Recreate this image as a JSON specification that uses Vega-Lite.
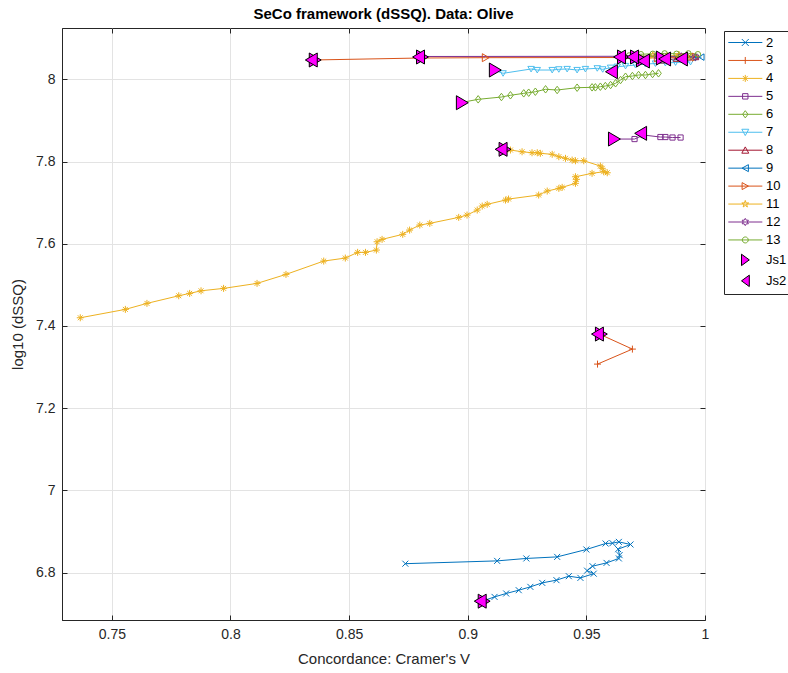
{
"$schema": "https://vega.github.io/schema/vega-lite/v6.json",
"width": 643, "height": 592,
"autosize": {"type": "none"},
"padding": {"left": 62, "top": 28, "right": 83, "bottom": 53},
"background": "white",
"title": {"text": "SeCo framework (dSSQ). Data: Olive", "fontSize": 15, "fontWeight": "bold", "font": "Liberation Sans", "color": "#000000", "anchor": "middle", "offset": 6},
"data": {"values": [
{"s":"2","i":0,"x":0.9061,"y":6.7307},{"s":"2","i":1,"x":0.9113,"y":6.7411},{"s":"2","i":2,"x":0.9162,"y":6.7494},{"s":"2","i":3,"x":0.9215,"y":6.7574},{"s":"2","i":4,"x":0.9264,"y":6.7655},{"s":"2","i":5,"x":0.9314,"y":6.7752},{"s":"2","i":6,"x":0.9374,"y":6.7818},{"s":"2","i":7,"x":0.9426,"y":6.7915},{"s":"2","i":8,"x":0.9475,"y":6.7873},{"s":"2","i":9,"x":0.9531,"y":6.7976},{"s":"2","i":10,"x":0.9503,"y":6.8049},{"s":"2","i":11,"x":0.9526,"y":6.8158},{"s":"2","i":12,"x":0.9585,"y":6.8238},{"s":"2","i":13,"x":0.9637,"y":6.8346},{"s":"2","i":14,"x":0.9640,"y":6.8426},{"s":"2","i":15,"x":0.9634,"y":6.8572},{"s":"2","i":16,"x":0.9686,"y":6.8686},{"s":"2","i":17,"x":0.9637,"y":6.8749},{"s":"2","i":18,"x":0.9610,"y":6.8718},{"s":"2","i":19,"x":0.9581,"y":6.8710},{"s":"2","i":20,"x":0.9500,"y":6.8564},{"s":"2","i":21,"x":0.9377,"y":6.8384},{"s":"2","i":22,"x":0.9247,"y":6.8346},{"s":"2","i":23,"x":0.9124,"y":6.8287},{"s":"2","i":24,"x":0.8737,"y":6.8219},
{"s":"3","i":0,"x":0.9555,"y":7.3803},{"s":"3","i":1,"x":0.9694,"y":7.3438},{"s":"3","i":2,"x":0.9547,"y":7.3073},
{"s":"4","i":0,"x":0.7367,"y":7.4200},{"s":"4","i":1,"x":0.7557,"y":7.4404},{"s":"4","i":2,"x":0.7648,"y":7.4550},{"s":"4","i":3,"x":0.7782,"y":7.4735},{"s":"4","i":4,"x":0.7828,"y":7.4793},{"s":"4","i":5,"x":0.7876,"y":7.4856},{"s":"4","i":6,"x":0.7971,"y":7.4915},{"s":"4","i":7,"x":0.8112,"y":7.5036},{"s":"4","i":8,"x":0.8234,"y":7.5255},{"s":"4","i":9,"x":0.8393,"y":7.5579},{"s":"4","i":10,"x":0.8484,"y":7.5652},{"s":"4","i":11,"x":0.8536,"y":7.5791},{"s":"4","i":12,"x":0.8569,"y":7.5791},{"s":"4","i":13,"x":0.8615,"y":7.5847},{"s":"4","i":14,"x":0.8618,"y":7.6049},{"s":"4","i":15,"x":0.8639,"y":7.6107},{"s":"4","i":16,"x":0.8726,"y":7.6229},{"s":"4","i":17,"x":0.8755,"y":7.6333},{"s":"4","i":18,"x":0.8798,"y":7.6455},{"s":"4","i":19,"x":0.8840,"y":7.6496},{"s":"4","i":20,"x":0.8962,"y":7.6642},{"s":"4","i":21,"x":0.8997,"y":7.6698},{"s":"4","i":22,"x":0.9040,"y":7.6820},{"s":"4","i":23,"x":0.9061,"y":7.6917},{"s":"4","i":24,"x":0.9082,"y":7.6959},{"s":"4","i":25,"x":0.9159,"y":7.7063},{"s":"4","i":26,"x":0.9172,"y":7.7088},{"s":"4","i":27,"x":0.9299,"y":7.7185},{"s":"4","i":28,"x":0.9335,"y":7.7282},{"s":"4","i":29,"x":0.9384,"y":7.7348},{"s":"4","i":30,"x":0.9398,"y":7.7372},{"s":"4","i":31,"x":0.9454,"y":7.7470},{"s":"4","i":32,"x":0.9458,"y":7.7567},{"s":"4","i":33,"x":0.9454,"y":7.7630},{"s":"4","i":34,"x":0.9524,"y":7.7713},{"s":"4","i":35,"x":0.9573,"y":7.7752},{"s":"4","i":36,"x":0.9588,"y":7.7727},{"s":"4","i":37,"x":0.9567,"y":7.7835},{"s":"4","i":38,"x":0.9559,"y":7.7891},{"s":"4","i":39,"x":0.9489,"y":7.8019},{"s":"4","i":40,"x":0.9454,"y":7.8019},{"s":"4","i":41,"x":0.9440,"y":7.8036},{"s":"4","i":42,"x":0.9412,"y":7.8078},{"s":"4","i":43,"x":0.9384,"y":7.8117},{"s":"4","i":44,"x":0.9356,"y":7.8175},{"s":"4","i":45,"x":0.9306,"y":7.8200},{"s":"4","i":46,"x":0.9293,"y":7.8214},{"s":"4","i":47,"x":0.9271,"y":7.8214},{"s":"4","i":48,"x":0.9229,"y":7.8238},{"s":"4","i":49,"x":0.9180,"y":7.8280},{"s":"4","i":50,"x":0.9149,"y":7.8297},
{"s":"5","i":0,"x":0.9610,"y":7.8547},{"s":"5","i":1,"x":0.9703,"y":7.8547},{"s":"5","i":2,"x":0.9741,"y":7.8645},{"s":"5","i":3,"x":0.9812,"y":7.8596},{"s":"5","i":4,"x":0.9833,"y":7.8596},{"s":"5","i":5,"x":0.9863,"y":7.8584},{"s":"5","i":6,"x":0.9897,"y":7.8584},
{"s":"6","i":0,"x":0.8969,"y":7.9431},{"s":"6","i":1,"x":0.9044,"y":7.9513},{"s":"6","i":2,"x":0.9142,"y":7.9569},{"s":"6","i":3,"x":0.9180,"y":7.9611},{"s":"6","i":4,"x":0.9236,"y":7.9659},{"s":"6","i":5,"x":0.9257,"y":7.9674},{"s":"6","i":6,"x":0.9285,"y":7.9698},{"s":"6","i":7,"x":0.9328,"y":7.9757},{"s":"6","i":8,"x":0.9377,"y":7.9740},{"s":"6","i":9,"x":0.9461,"y":7.9796},{"s":"6","i":10,"x":0.9524,"y":7.9805},{"s":"6","i":11,"x":0.9538,"y":7.9805},{"s":"6","i":12,"x":0.9559,"y":7.9820},{"s":"6","i":13,"x":0.9580,"y":7.9837},{"s":"6","i":14,"x":0.9602,"y":7.9861},{"s":"6","i":15,"x":0.9623,"y":7.9903},{"s":"6","i":16,"x":0.9644,"y":7.9983},{"s":"6","i":17,"x":0.9665,"y":8.0063},{"s":"6","i":18,"x":0.9694,"y":8.0080},{"s":"6","i":19,"x":0.9720,"y":8.0105},{"s":"6","i":20,"x":0.9749,"y":8.0105},{"s":"6","i":21,"x":0.9779,"y":8.0129},{"s":"6","i":22,"x":0.9804,"y":8.0146},
{"s":"7","i":0,"x":0.9108,"y":8.0226},{"s":"7","i":1,"x":0.9149,"y":8.0146},{"s":"7","i":2,"x":0.9267,"y":8.0251},{"s":"7","i":3,"x":0.9293,"y":8.0226},{"s":"7","i":4,"x":0.9356,"y":8.0226},{"s":"7","i":5,"x":0.9384,"y":8.0243},{"s":"7","i":6,"x":0.9419,"y":8.0251},{"s":"7","i":7,"x":0.9461,"y":8.0226},{"s":"7","i":8,"x":0.9496,"y":8.0251},{"s":"7","i":9,"x":0.9546,"y":8.0268},{"s":"7","i":10,"x":0.9569,"y":8.0243},{"s":"7","i":11,"x":0.9602,"y":8.0282},{"s":"7","i":12,"x":0.9630,"y":8.0307},{"s":"7","i":13,"x":0.9665,"y":8.0324},{"s":"7","i":14,"x":0.9707,"y":8.0348},{"s":"7","i":15,"x":0.9749,"y":8.0372},{"s":"7","i":16,"x":0.9791,"y":8.0384},{"s":"7","i":17,"x":0.9833,"y":8.0397},{"s":"7","i":18,"x":0.9876,"y":8.0409},{"s":"7","i":19,"x":0.9939,"y":8.0421},
{"s":"8","i":0,"x":0.9820,"y":8.0460},{"s":"8","i":1,"x":0.9880,"y":8.0500},{"s":"8","i":2,"x":0.9930,"y":8.0530},{"s":"8","i":3,"x":0.9960,"y":8.0540},
{"s":"9","i":0,"x":0.9900,"y":8.0500},{"s":"9","i":1,"x":0.9950,"y":8.0530},{"s":"9","i":2,"x":0.9985,"y":8.0540},
{"s":"10","i":0,"x":0.8349,"y":8.0470},{"s":"10","i":1,"x":0.8801,"y":8.0518},{"s":"10","i":2,"x":0.9075,"y":8.0526},{"s":"10","i":3,"x":0.9700,"y":8.0530},{"s":"10","i":4,"x":0.9800,"y":8.0520},{"s":"10","i":5,"x":0.9900,"y":8.0530},{"s":"10","i":6,"x":0.9960,"y":8.0540},
{"s":"11","i":0,"x":0.9650,"y":8.0500},{"s":"11","i":1,"x":0.9720,"y":8.0550},{"s":"11","i":2,"x":0.9780,"y":8.0580},{"s":"11","i":3,"x":0.9840,"y":8.0560},{"s":"11","i":4,"x":0.9890,"y":8.0590},{"s":"11","i":5,"x":0.9940,"y":8.0550},
{"s":"12","i":0,"x":0.8801,"y":8.0555},{"s":"12","i":1,"x":0.9650,"y":8.0560},{"s":"12","i":2,"x":0.9800,"y":8.0560},{"s":"12","i":3,"x":0.9900,"y":8.0555},{"s":"12","i":4,"x":0.9960,"y":8.0545},
{"s":"13","i":0,"x":0.9680,"y":8.0580},{"s":"13","i":1,"x":0.9730,"y":8.0610},{"s":"13","i":2,"x":0.9780,"y":8.0620},{"s":"13","i":3,"x":0.9830,"y":8.0630},{"s":"13","i":4,"x":0.9880,"y":8.0620},{"s":"13","i":5,"x":0.9930,"y":8.0630},{"s":"13","i":6,"x":0.9970,"y":8.0610},
{"s":"Js1","i":0,"x":0.8349,"y":8.0470},{"s":"Js1","i":1,"x":0.8801,"y":8.0543},{"s":"Js1","i":2,"x":0.9108,"y":8.0226},{"s":"Js1","i":3,"x":0.8969,"y":7.9431},{"s":"Js1","i":4,"x":0.9149,"y":7.8297},{"s":"Js1","i":5,"x":0.9610,"y":7.8547},{"s":"Js1","i":6,"x":0.9061,"y":6.7307},{"s":"Js1","i":7,"x":0.9555,"y":7.3803},{"s":"Js1","i":8,"x":0.9648,"y":8.0543},{"s":"Js1","i":9,"x":0.9703,"y":8.0543},{"s":"Js1","i":10,"x":0.9728,"y":8.0470},{"s":"Js1","i":11,"x":0.9812,"y":8.0518},
{"s":"Js2","i":0,"x":0.8349,"y":8.0470},{"s":"Js2","i":1,"x":0.8801,"y":8.0543},{"s":"Js2","i":2,"x":0.9149,"y":7.8297},{"s":"Js2","i":3,"x":0.9737,"y":7.8686},{"s":"Js2","i":4,"x":0.9061,"y":6.7307},{"s":"Js2","i":5,"x":0.9555,"y":7.3803},{"s":"Js2","i":6,"x":0.9614,"y":8.0185},{"s":"Js2","i":7,"x":0.9648,"y":8.0543},{"s":"Js2","i":8,"x":0.9703,"y":8.0543},{"s":"Js2","i":9,"x":0.9749,"y":8.0445},{"s":"Js2","i":10,"x":0.9838,"y":8.0494},{"s":"Js2","i":11,"x":0.9909,"y":8.0494}
]},
"layer": [
{
"encoding": {
"x": {"field": "x", "type": "quantitative", "scale": {"domain": [0.729, 1.0], "nice": false, "zero": false}, "axis": {"values": [0.75, 0.8, 0.85, 0.9, 0.95, 1], "format": "~g", "title": "Concordance: Cramer's V", "grid": true, "labelFlush": false, "labelOverlap": false, "titlePadding": 10}},
"y": {"field": "y", "type": "quantitative", "scale": {"domain": [6.6849, 8.1248], "nice": false, "zero": false}, "axis": {"values": [6.8, 7, 7.2, 7.4, 7.6, 7.8, 8], "format": "~g", "title": "log10 (dSSQ)", "grid": true, "labelFlush": false, "labelOverlap": false, "titlePadding": 10}},
"stroke": {"field": "s", "type": "nominal", "scale": {"domain": ["2","3","4","5","6","7","8","9","10","11","12","13","Js1","Js2"], "range": ["#0072BD","#D95319","#EDB120","#7E2F8E","#77AC30","#4DBEEE","#A2142F","#0072BD","#D95319","#EDB120","#7E2F8E","#77AC30","#000000","#000000"]}, "legend": {"title": null, "orient": "none", "legendX": 662, "legendY": 3, "direction": "vertical"}}
},
"layer": [
{"mark": {"type": "point", "filled": false, "opacity": 0},
 "encoding": {
  "shape": {"field": "s", "type": "nominal", "scale": {"domain": ["2","3","4","5","6","7","8","9","10","11","12","13","Js1","Js2"], "range": [
    "M-1.2,0L4.47,0M1.05,-0.58L2.21,0.58M1.05,0.58L2.21,-0.58",
    "M-1.2,0L4.47,0M1.63,-0.58L1.63,0.58",
    "M-1.2,0L4.47,0M1.63,-0.58L1.63,0.58M1.22,-0.41L2.04,0.41M1.22,0.41L2.04,-0.41",
    "M-1.2,0L4.47,0M1.18,-0.45L2.08,-0.45L2.08,0.45L1.18,0.45Z",
    "M-1.2,0L4.47,0M1.63,-0.6L2.08,0L1.63,0.6L1.18,0Z",
    "M-1.2,0L4.47,0M1.05,-0.5L2.21,-0.5L1.63,0.55Z",
    "M-1.2,0L4.47,0M1.05,0.5L2.21,0.5L1.63,-0.55Z",
    "M-1.2,0L4.47,0M2.15,-0.58L2.15,0.58L1.1,0Z",
    "M-1.2,0L4.47,0M1.1,-0.58L1.1,0.58L2.15,0Z",
    "M-1.2,0L4.47,0M1.63,-0.6L1.765,-0.185L2.201,-0.185L1.848,0.071L1.983,0.485L1.63,0.229L1.277,0.485L1.412,0.071L1.059,-0.185L1.495,-0.185Z",
    "M-1.2,0L4.47,0M1.63,-0.6L1.803,-0.3L2.15,-0.3L1.976,0L2.15,0.3L1.803,0.3L1.63,0.6L1.457,0.3L1.11,0.3L1.284,0L1.11,-0.3L1.457,-0.3Z",
    "M-1.2,0L4.47,0M1.13,0A0.5,0.5 0 1,1 2.13,0A0.5,0.5 0 1,1 1.13,0Z",
    "M1.0,-0.95L1.0,0.95L2.3,0Z",
    "M2.3,-0.95L2.3,0.95L1.0,0Z"]}, "legend": {"title": null, "orient": "none", "legendX": 662, "legendY": 3, "direction": "vertical"}},
  "fill": {"field": "s", "type": "nominal", "scale": {"domain": ["2","3","4","5","6","7","8","9","10","11","12","13","Js1","Js2"], "range": ["transparent","transparent","transparent","transparent","transparent","transparent","transparent","transparent","transparent","transparent","transparent","transparent","#FF00FF","#FF00FF"]}, "legend": {"title": null, "orient": "none", "legendX": 662, "legendY": 3, "direction": "vertical"}}
 }},
{"transform": [{"filter": "datum.s !== 'Js1' && datum.s !== 'Js2'"}], "mark": {"type": "line", "strokeWidth": 1}, "encoding": {"order": {"field": "i", "type": "quantitative"}}},
{"transform": [{"filter": "datum.s === '2'"}], "mark": {"type": "point", "shape": "M-1,-1L1,1M-1,1L1,-1", "filled": false, "size": 36, "strokeWidth": 1, "opacity": 1}},
{"transform": [{"filter": "datum.s === '3'"}], "mark": {"type": "point", "shape": "M-1,0L1,0M0,-1L0,1", "filled": false, "size": 49, "strokeWidth": 1, "opacity": 1}},
{"transform": [{"filter": "datum.s === '4'"}], "mark": {"type": "point", "shape": "M-1,0L1,0M0,-1L0,1M-0.7,-0.7L0.7,0.7M-0.7,0.7L0.7,-0.7", "filled": false, "size": 49, "strokeWidth": 1, "opacity": 1}},
{"transform": [{"filter": "datum.s === '5'"}], "mark": {"type": "point", "shape": "M-0.8,-0.8L0.8,-0.8L0.8,0.8L-0.8,0.8Z", "filled": false, "size": 42, "strokeWidth": 1, "opacity": 1}},
{"transform": [{"filter": "datum.s === '6'"}], "mark": {"type": "point", "shape": "M0,-1L0.75,0L0,1L-0.75,0Z", "filled": false, "size": 56, "strokeWidth": 1, "opacity": 1}},
{"transform": [{"filter": "datum.s === '7'"}], "mark": {"type": "point", "shape": "M-1,-0.8L1,-0.8L0,0.9Z", "filled": false, "size": 42, "strokeWidth": 1, "opacity": 1}},
{"transform": [{"filter": "datum.s === '8'"}], "mark": {"type": "point", "shape": "M-1,0.8L1,0.8L0,-0.9Z", "filled": false, "size": 42, "strokeWidth": 1, "opacity": 1}},
{"transform": [{"filter": "datum.s === '9'"}], "mark": {"type": "point", "shape": "M0.8,-1L0.8,1L-0.9,0Z", "filled": false, "size": 42, "strokeWidth": 1, "opacity": 1}},
{"transform": [{"filter": "datum.s === '10'"}], "mark": {"type": "point", "shape": "M-0.8,-1L-0.8,1L0.9,0Z", "filled": false, "size": 64, "strokeWidth": 1, "opacity": 1}},
{"transform": [{"filter": "datum.s === '11'"}], "mark": {"type": "point", "shape": "M0,-1L0.225,-0.309L0.951,-0.309L0.363,0.118L0.588,0.809L0,0.382L-0.588,0.809L-0.363,0.118L-0.951,-0.309L-0.225,-0.309Z", "filled": false, "size": 56, "strokeWidth": 1, "opacity": 1}},
{"transform": [{"filter": "datum.s === '12'"}], "mark": {"type": "point", "shape": "M0,-1L0.289,-0.5L0.866,-0.5L0.577,0L0.866,0.5L0.289,0.5L0,1L-0.289,0.5L-0.866,0.5L-0.577,0L-0.866,-0.5L-0.289,-0.5Z", "filled": false, "size": 56, "strokeWidth": 1, "opacity": 1}},
{"transform": [{"filter": "datum.s === '13'"}], "mark": {"type": "point", "shape": "circle", "filled": false, "size": 30, "strokeWidth": 1, "opacity": 1}},
{"transform": [{"filter": "datum.s === 'Js1'"}], "mark": {"type": "point", "shape": "M-0.57,-1L-0.57,1L1.13,0Z", "filled": true, "size": 196, "strokeWidth": 1, "opacity": 1}, "encoding": {"fill": {"value": "#FF00FF"}, "stroke": {"value": "#000000"}}},
{"transform": [{"filter": "datum.s === 'Js2'"}], "mark": {"type": "point", "shape": "M0.57,-1L0.57,1L-1.13,0Z", "filled": true, "size": 196, "strokeWidth": 1, "opacity": 1}, "encoding": {"fill": {"value": "#FF00FF"}, "stroke": {"value": "#000000"}}}
]
},
{
"mark": {"type": "point", "opacity": 0},
"encoding": {
"x": {"field": "x", "type": "quantitative", "scale": {"domain": [0.729, 1.0], "nice": false, "zero": false}, "axis": {"orient": "top", "values": [0.75, 0.8, 0.85, 0.9, 0.95, 1], "labels": false, "grid": false, "title": null, "domain": false}},
"y": {"field": "y", "type": "quantitative", "scale": {"domain": [6.6849, 8.1248], "nice": false, "zero": false}, "axis": {"orient": "right", "values": [6.8, 7, 7.2, 7.4, 7.6, 7.8, 8], "labels": false, "grid": false, "title": null, "domain": false}}
}
}
],
"resolve": {"axis": {"x": "independent", "y": "independent"}},
"config": {
"view": {"stroke": "#262626", "strokeWidth": 1},
"axis": {"domainColor": "#262626", "domainWidth": 1, "tickColor": "#262626", "tickSize": -5, "tickWidth": 1, "labelColor": "#262626", "titleColor": "#262626", "labelFont": "Liberation Sans", "titleFont": "Liberation Sans", "labelFontSize": 14, "titleFontSize": 15, "titleFontWeight": "normal", "gridColor": "#e3e3e3", "gridWidth": 1, "labelPadding": 12},
"legend": {"symbolSize": 144, "labelOffset": 24, "rowPadding": 3.95, "padding": 5, "strokeColor": "#262626", "fillColor": "white", "labelFont": "Liberation Sans", "labelFontSize": 13, "labelColor": "#000000", "symbolStrokeWidth": 1, "symbolOpacity": 1, "symbolFillColor": "transparent", "cornerRadius": 0}
}
}
